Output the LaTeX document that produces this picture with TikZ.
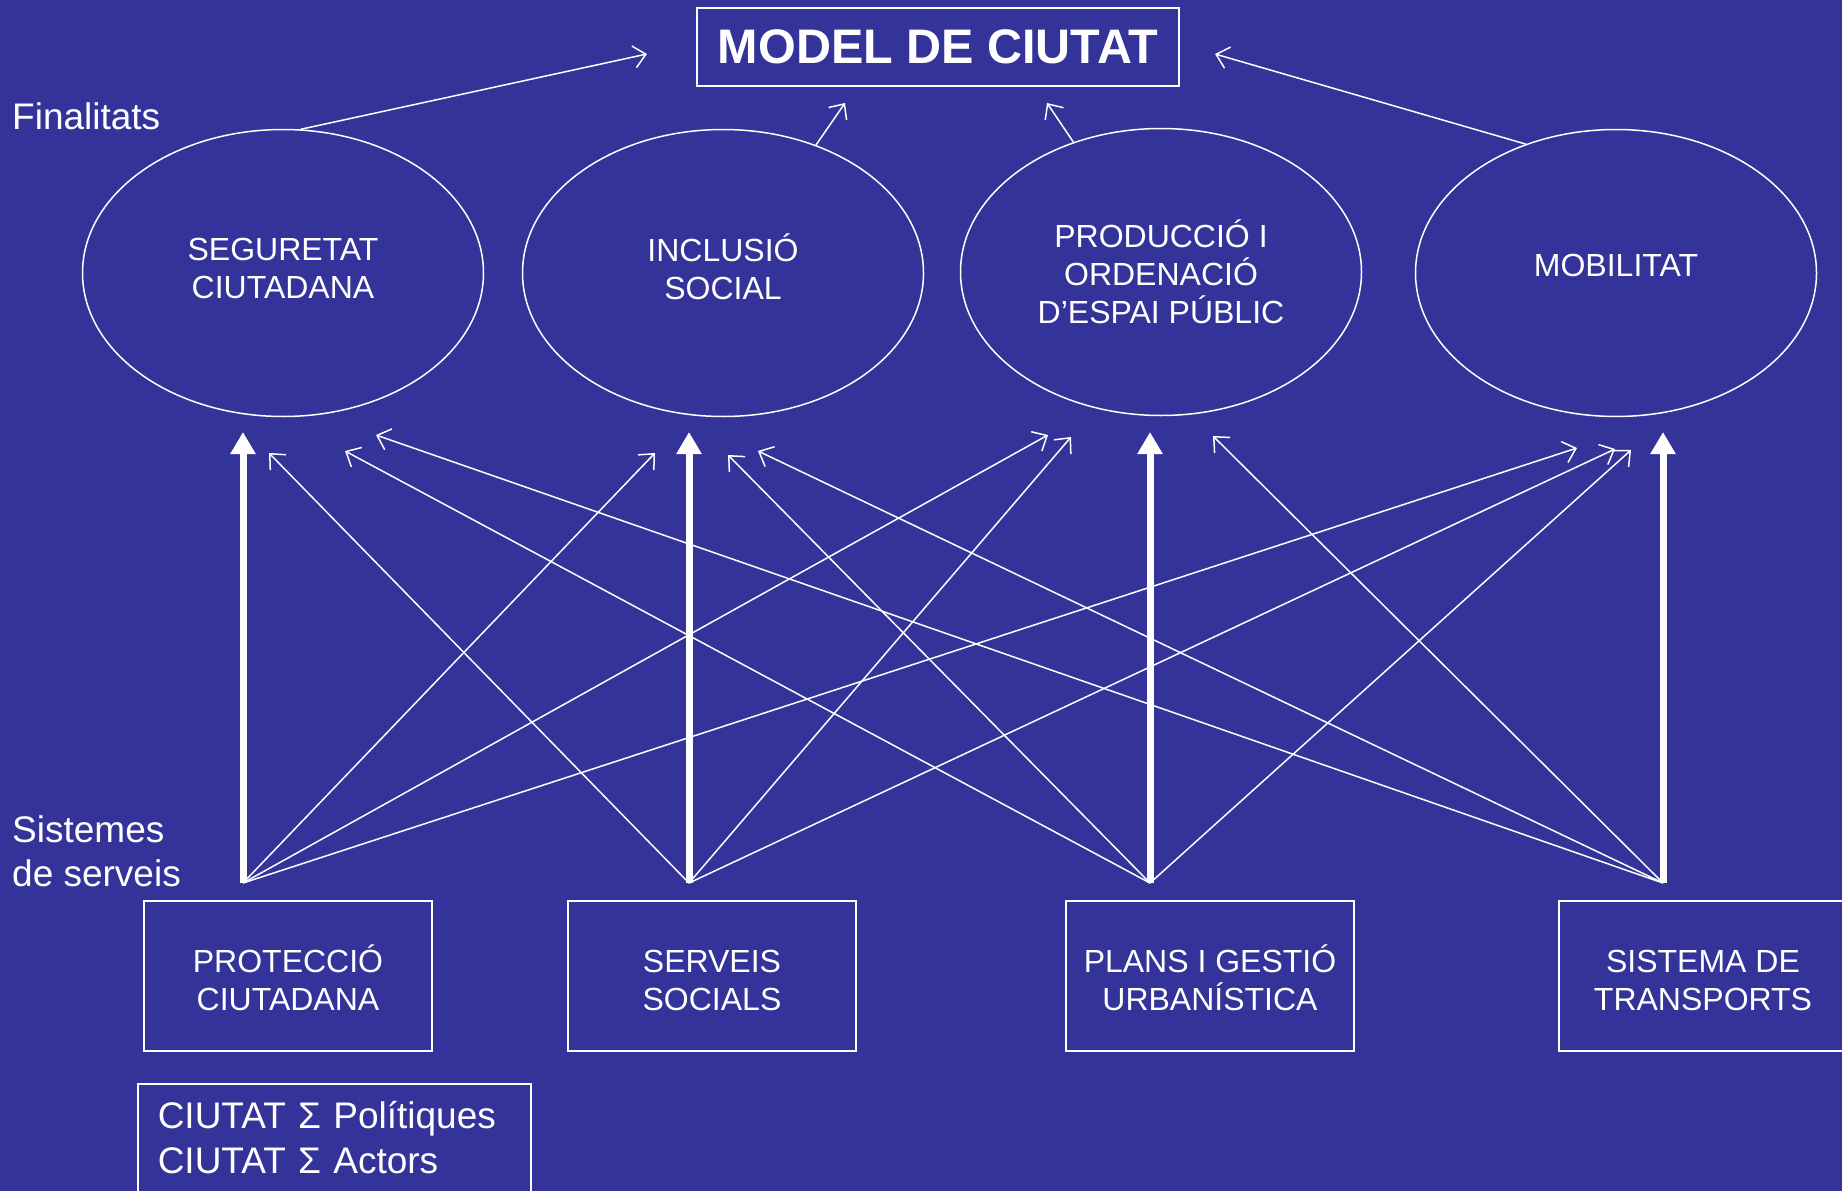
\documentclass[tikz,border=0pt]{standalone}
\usepackage{fontspec}
\setmainfont{Liberation Sans}
\usepackage{xcolor}
\usetikzlibrary{shapes.geometric,arrows.meta}
\definecolor{fons}{RGB}{51,51,153}

\begin{document}
\begin{tikzpicture}[x=1pt, y=-1pt,
    finalitat/.style={draw=white, ellipse, line width=1.5pt, minimum width=401pt, minimum height=287pt, inner sep=0pt, text=white, align=center, font=\fontsize{32}{38}\selectfont},
    sistema/.style={draw=white, line width=1.5pt, minimum width=288pt, minimum height=150pt, text height=70pt, text=white, align=center, font=\fontsize{32}{38}\selectfont},
    fina/.style={-{Straight Barb[length=12pt,width=22pt]}, white, line width=1.5pt},
    gruixut/.style={-{Triangle[length=22pt,width=24pt]}, white, line width=7pt}]

    \fill[fons] (0,0) rectangle (1842,1191);
    \useasboundingbox (0,0) rectangle (1842,1191);

    \node[draw=white, line width=1.5pt, minimum width=482pt, minimum height=78pt, text=white, font=\fontsize{48.5}{56}\selectfont\bfseries] (model) at (938,47) {MODEL DE CIUTAT};
    \node[text=white, anchor=base west, inner sep=0pt, font=\fontsize{37}{44}\selectfont] (finalitats) at (12,129) {Finalitats};

    \node[finalitat, text depth=10pt] (seguretat) at (283,273) {SEGURETAT\\CIUTADANA};
    \node[finalitat, text depth=12pt] (inclusio) at (723,273) {INCLUSIÓ\\SOCIAL};
    \node[finalitat] (produccio) at (1161,272) {PRODUCCIÓ I\\ORDENACIÓ\\D’ESPAI PÚBLIC};
    \node[finalitat, text depth=16pt] (mobilitat) at (1616,273) {MOBILITAT};

    \node[text=white, anchor=north west, inner sep=0pt, align=left, font=\fontsize{37}{44}\selectfont] (sistemes) at (12,815) {Sistemes\\de serveis};

    \node[sistema] (proteccio) at (288,976) {PROTECCIÓ\\CIUTADANA};
    \node[sistema] (serveis) at (712,976) {SERVEIS\\SOCIALS};
    \node[sistema] (plans) at (1210,976) {PLANS I GESTIÓ\\URBANÍSTICA};
    \node[sistema] (transports) at (1703,976) {SISTEMA DE\\TRANSPORTS};

    \node[draw=white, line width=1.5pt, anchor=north west, text width=353pt, text depth=60pt, inner xsep=20pt, inner ysep=17pt, align=left, text=white, font=\fontsize{37}{45}\selectfont] (ciutat) at (137,1083) {CIUTAT Σ Polítiques\\CIUTAT Σ Actors};

    \coordinate (model-a) at (647,54);
    \coordinate (model-b) at (845,103);
    \coordinate (model-c) at (1047,103);
    \coordinate (model-d) at (1215,54);
    \draw[fina] (seguretat.83) -- (model-a);
    \draw[fina] (inclusio.54) -- (model-b);
    \draw[fina] (produccio.124) -- (model-c);
    \draw[fina] (mobilitat.125) -- (model-d);

    \coordinate (peu1) at (243,883);
    \coordinate (peu2) at (689,883);
    \coordinate (peu3) at (1150,883);
    \coordinate (peu4) at (1663,883);

    \coordinate (seg-a) at (269,453);
    \coordinate (seg-b) at (345,451);
    \coordinate (seg-c) at (376,435);
    \coordinate (incl-a) at (655,453);
    \coordinate (incl-b) at (728,455);
    \coordinate (incl-c) at (758,451);
    \coordinate (prod-a) at (1048,435);
    \coordinate (prod-b) at (1071,437);
    \coordinate (prod-c) at (1213,436);
    \coordinate (mob-a) at (1577,448);
    \coordinate (mob-b) at (1615,449);
    \coordinate (mob-c) at (1631,450);

    \draw[fina] (peu1) -- (incl-a);
    \draw[fina] (peu1) -- (prod-a);
    \draw[fina] (peu1) -- (mob-a);
    \draw[fina] (peu2) -- (seg-a);
    \draw[fina] (peu2) -- (prod-b);
    \draw[fina] (peu2) -- (mob-b);
    \draw[fina] (peu3) -- (seg-b);
    \draw[fina] (peu3) -- (incl-b);
    \draw[fina] (peu3) -- (mob-c);
    \draw[fina] (peu4) -- (seg-c);
    \draw[fina] (peu4) -- (incl-c);
    \draw[fina] (peu4) -- (prod-c);

    \draw[gruixut] (peu1) -- (243,432);
    \draw[gruixut] (peu2) -- (689,432);
    \draw[gruixut] (peu3) -- (1150,432);
    \draw[gruixut] (peu4) -- (1663,432);
\end{tikzpicture}
\end{document}
